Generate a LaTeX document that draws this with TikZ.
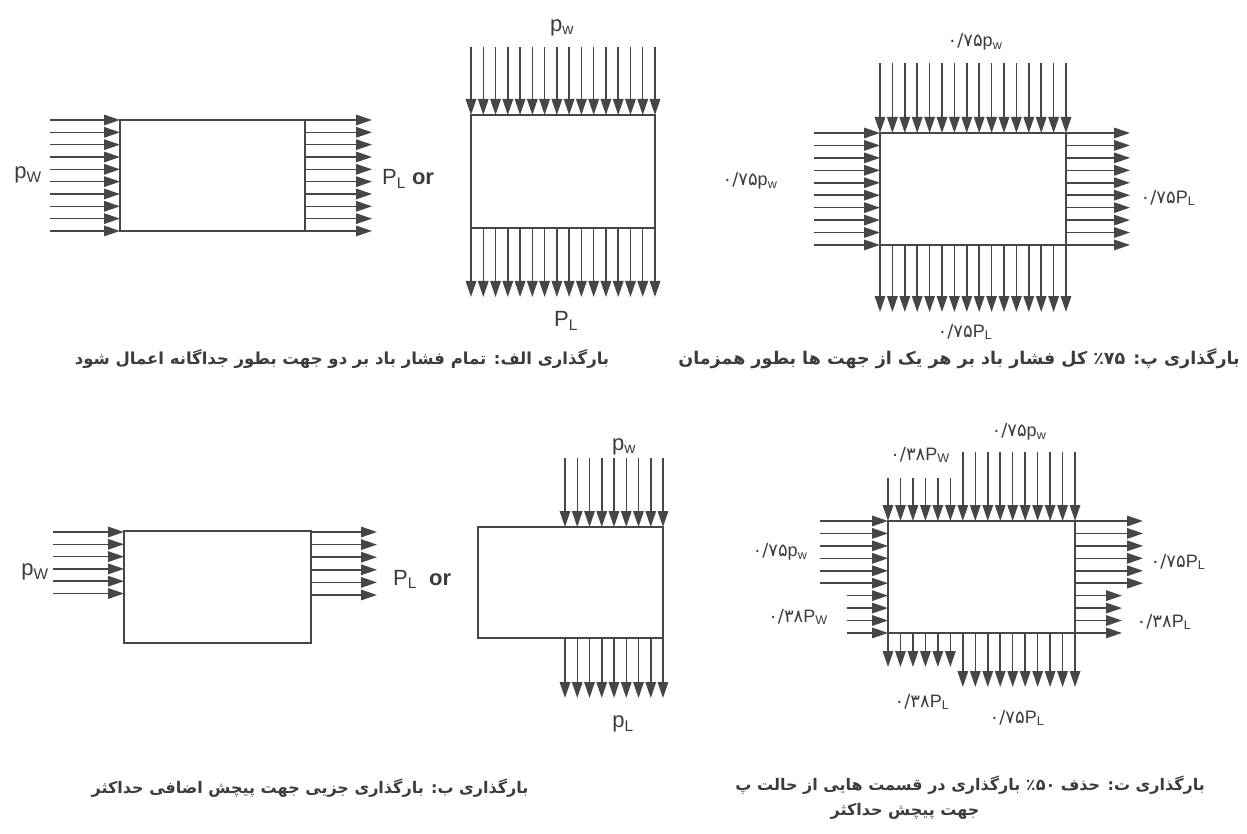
\documentclass[tikz,border=0pt]{standalone}
\usepackage{fontspec}
\usetikzlibrary{arrows.meta}
\TeXXeTstate=1
\newfontfamily\arabicfont[Script=Arabic]{DejaVu Sans}
\newfontfamily\digf{DejaVu Sans}
\newfontfamily\latf{Liberation Sans}
\definecolor{ink}{HTML}{464646}
\definecolor{txt}{HTML}{3C3C3C}
\newcommand{\lsub}[2]{#1\textsubscript{#2}}
\newcommand{\fnum}[1]{{\digf #1}}
\begin{document}
\begin{tikzpicture}[x=1pt,y=-1pt,
  load/.style={draw=ink,line width=1.5pt,-{Triangle[length=16pt,width=10.5pt]}},
  box/.style={draw=ink,line width=1.5pt},
  lab/.style={text=txt,inner sep=0pt,font=\latf\fontsize{22}{24}\selectfont},
  slab/.style={text=txt,inner sep=0pt,font=\latf\fontsize{18}{20}\selectfont},
  capb/.style={text=txt,inner sep=0pt,font=\arabicfont\bfseries\fontsize{16.5}{18}\selectfont},
  capB/.style={text=txt,inner sep=0pt,font=\arabicfont\bfseries\fontsize{17.5}{19}\selectfont},
  capc/.style={text=txt,inner sep=0pt,font=\arabicfont\bfseries\fontsize{16}{18}\selectfont}]
\useasboundingbox[fill=white] (0,0) rectangle (1247,834);

% ---------- Panel 1 ----------
\draw[box] (120,120) rectangle (305,231);
\foreach \i in {0,...,9}{
  \draw[load] (50,{120+\i*12.33}) -- (120,{120+\i*12.33});
  \draw[load] (305,{120+\i*12.33}) -- (372,{120+\i*12.33});
}
\node[lab] (pw1) at (28,175) {\lsub{p}{W}};
\node[lab,anchor=base west] (or1) at (382,185) {\lsub{P}{L} {\bfseries or}};

% ---------- Panel 2 ----------
\draw[box] (471,115) rectangle (655,228);
\foreach \i in {0,...,15}{
  \draw[load] ({471+\i*12.267},47) -- ({471+\i*12.267},115);
  \draw[load] ({471+\i*12.267},228) -- ({471+\i*12.267},297);
}
\node[lab] (pw2) at (562,28) {\lsub{p}{w}};
\node[lab] (pl2) at (566,321) {\lsub{P}{L}};

% ---------- Panel 3 ----------
\draw[box] (880,133) rectangle (1066,245);
\foreach \i in {0,...,15}{
  \draw[load] ({880+\i*12.4},63) -- ({880+\i*12.4},133);
  \draw[load] ({880+\i*12.4},245) -- ({880+\i*12.4},312);
}
\foreach \i in {0,...,9}{
  \draw[load] (814,{133+\i*12.44}) -- (880,{133+\i*12.44});
  \draw[load] (1066,{133+\i*12.44}) -- (1130,{133+\i*12.44});
}
\node[slab] (t3) at (975,42) {\fnum{۰/۷۵}\lsub{p}{w}};
\node[slab] (l3) at (750,181) {\fnum{۰/۷۵}\lsub{p}{w}};
\node[slab] (r3) at (1168,198) {\fnum{۰/۷۵}\lsub{P}{L}};
\node[slab] (b3) at (965,332) {\fnum{۰/۷۵}\lsub{P}{L}};

% ---------- top captions ----------
\node[capb] (cap1) at (342,359) {\beginR بارگذاری الف: تمام فشار باد بر دو جهت بطور جداگانه اعمال شود\endR};
\node[capB,anchor=east] (cap2) at (1240,359) {\beginR بارگذاری پ: \beginL{\digf ٪۷۵}\endL{} کل فشار باد بر هر یک از جهت ها بطور همزمان\endR};

% ---------- Panel 4 ----------
\draw[box] (124,531) rectangle (311,643);
\foreach \i in {0,...,5}{
  \draw[load] (53,{532+\i*12.3}) -- (124,{532+\i*12.3});
  \draw[load] (311,{532+\i*12.6}) -- (377,{532+\i*12.6});
}
\node[lab] (pw4) at (35,572) {\lsub{p}{W}};
\node[lab,anchor=base west] (or2) at (393,585) {\lsub{P}{L}\ \ {\bfseries or}};

% ---------- Panel 5 ----------
\draw[box] (478,527) rectangle (663,638);
\foreach \i in {0,...,8}{
  \draw[load] ({565+\i*12.25},458) -- ({565+\i*12.25},527);
  \draw[load] ({565+\i*12.25},638) -- ({565+\i*12.25},698);
}
\node[lab] (pw5) at (624,447) {\lsub{p}{w}};
\node[lab] (pl5) at (623,724) {\lsub{p}{L}};

% ---------- Panel 6 ----------
\draw[box] (888,521) rectangle (1075,633);
\foreach \i in {0,...,15}{
  \pgfmathsetmacro{\xx}{888+\i*12.47}
  \ifnum\i<6
    \draw[load] (\xx,478) -- (\xx,521);
    \draw[load] (\xx,633) -- (\xx,667);
  \else
    \draw[load] (\xx,452) -- (\xx,521);
    \draw[load] (\xx,633) -- (\xx,687);
  \fi
}
\foreach \i in {0,...,9}{
  \pgfmathsetmacro{\yy}{521+\i*12.44}
  \ifnum\i<6
    \draw[load] (820,\yy) -- (888,\yy);
    \draw[load] (1075,\yy) -- (1143,\yy);
  \else
    \draw[load] (847,\yy) -- (888,\yy);
    \draw[load] (1075,\yy) -- (1122,\yy);
  \fi
}
\node[slab] (t6a) at (1019,432) {\fnum{۰/۷۵}\lsub{p}{w}};
\node[slab] (t6b) at (920,455) {\fnum{۰/۳۸}\lsub{P}{W}};
\node[slab] (l6a) at (780,552) {\fnum{۰/۷۵}\lsub{p}{w}};
\node[slab] (l6b) at (798,617) {\fnum{۰/۳۸}\lsub{P}{W}};
\node[slab] (r6a) at (1178,562) {\fnum{۰/۷۵}\lsub{P}{L}};
\node[slab] (r6b) at (1164,622) {\fnum{۰/۳۸}\lsub{P}{L}};
\node[slab] (b6a) at (922,702) {\fnum{۰/۳۸}\lsub{P}{L}};
\node[slab] (b6b) at (1017,718) {\fnum{۰/۷۵}\lsub{P}{L}};

% ---------- bottom captions ----------
\node[capc] (cap3) at (310,788) {\beginR بارگذاری ب: بارگذاری جزیی جهت پیچش اضافی حداکثر\endR};
\node[capc,anchor=east] (cap4) at (1205,785) {\beginR بارگذاری ت: حذف \beginL{\digf ٪۵۰}\endL{} بارگذاری در قسمت هایی از حالت پ\endR};
\node[capc] (cap5) at (905,811) {\beginR جهت پیچش حداکثر\endR};
\end{tikzpicture}
\end{document}
